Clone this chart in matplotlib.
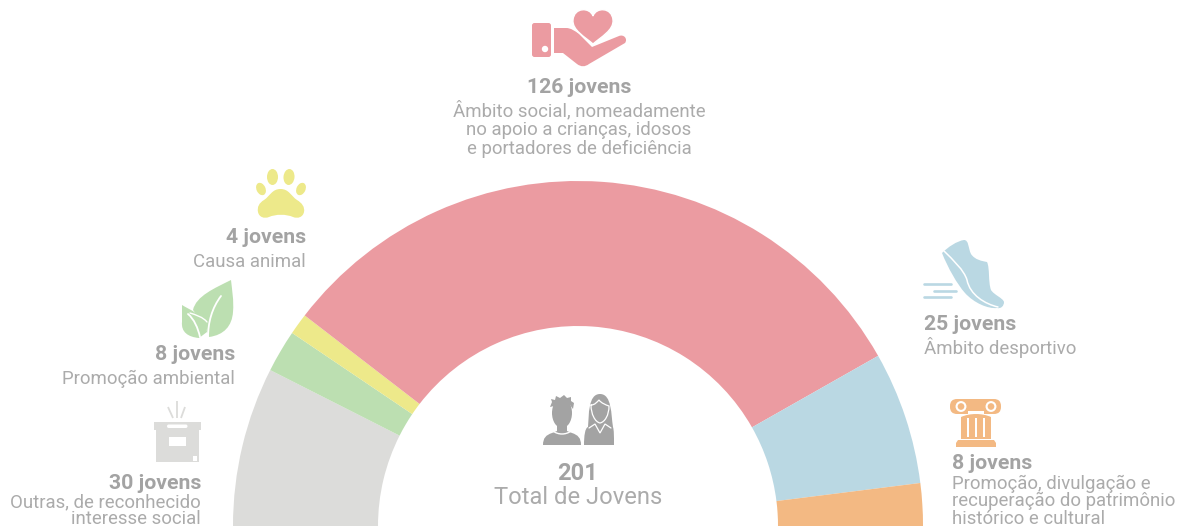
import matplotlib
matplotlib.use("Agg")
import matplotlib.pyplot as plt
from matplotlib.patches import Wedge, Circle, Ellipse, FancyBboxPatch, PathPatch, Rectangle
from matplotlib.path import Path

W, H = 1178, 526
CX, CY, R_OUT, R_IN = 578, 526, 345, 200

# slices, clockwise from the left end of the half ring
VALUES = [30, 8, 4, 126, 25, 8]
COLORS = ["#dcdcda", "#bcdfb1", "#ede98a", "#eb9ba1", "#bad8e3", "#f3b983"]
TOTAL = 201
TOTAL_LABEL = "Total de Jovens"
UNIT = "jovens"
DESCRIPTIONS = [
    ["Outras, de reconhecido", "interesse social"],
    ["Promoção ambiental"],
    ["Causa animal"],
    ["Âmbito social, nomeadamente", "no apoio a crianças, idosos", "e portadores de deficiência"],
    ["Âmbito desportivo"],
    ["Promoção, divulgação e", "recuperação do patrimônio", "histórico e cultural"],
]
# x, baselines of the title and each description line, alignment
LABEL_POS = [
    (201, [489, 507, 524], "right"),
    (235, [360, 384], "right"),
    (306, [243, 267], "right"),
    (579, [93, 116, 135, 154], "center"),
    (924, [330, 354], "left"),
    (952, [469, 489, 506, 524], "left"),
]
TEXT_DARK = "#a3a3a3"
TEXT_LIGHT = "#ababab"
PEOPLE = "#a3a3a3"

plt.rcParams["font.family"] = ["Roboto", "DejaVu Sans"]


def curve(ax, verts, color, **kw):
    # verts: first point, then (c1, c2, end) cubic segments or plain line points
    path_v, codes = [verts[0]], [Path.MOVETO]
    for seg in verts[1:]:
        if len(seg) == 3:
            path_v.extend(seg)
            codes.extend([Path.CURVE4] * 3)
        else:
            path_v.append(seg)
            codes.append(Path.LINETO)
    closed = kw.pop("closed", True)
    if closed:
        path_v.append(verts[0])
        codes.append(Path.CLOSEPOLY)
        ax.add_patch(PathPatch(Path(path_v, codes), fc=color, ec=kw.pop("ec", "none"), **kw))
    else:
        ax.add_patch(PathPatch(Path(path_v, codes), fc="none", ec=color, capstyle="round", **kw))


def rrect(ax, x0, y0, x1, y1, r, color):
    ax.add_patch(FancyBboxPatch((x0 + r, y0 + r), x1 - x0 - 2 * r, y1 - y0 - 2 * r,
                                boxstyle=f"round,pad={r},rounding_size={r}", fc=color, ec="none"))


def hand_icon(ax, c):
    rrect(ax, 532, 23, 551, 57, 2.5, c)
    ax.add_patch(Circle((545, 49), 3.2, fc="white", ec="none"))
    curve(ax, [(554, 28), (566, 28), ((571, 28), (575, 31), (579, 34)), (592, 47), (619, 36),
               ((624, 34), (628, 39), (625, 43)), (589, 64), ((585, 67), (581, 67), (577, 64)),
               (563, 53), (554, 53)], c)
    curve(ax, [(593, 44), ((585, 37), (572, 30), (573, 20)), ((574, 7), (590, 7), (593, 16)),
               ((596, 7), (612, 7), (613, 20)), ((614, 30), (601, 37), (593, 44))],
          c, ec="white", lw=1.0)


def paw_icon(ax, c):
    ax.add_patch(Ellipse((272.5, 177), 11, 16, fc=c, ec="none"))
    ax.add_patch(Ellipse((289, 177), 11, 16, angle=5, fc=c, ec="none"))
    ax.add_patch(Ellipse((261, 189), 9, 13, angle=-25, fc=c, ec="none"))
    ax.add_patch(Ellipse((301, 189), 9, 13, angle=25, fc=c, ec="none"))
    curve(ax, [(280.5, 189), ((272, 189), (270, 196), (264, 200)), ((259, 203), (257, 207), (258, 212)),
               ((259, 217), (264, 219), (269, 217)), ((276, 214), (286, 214), (293, 217)),
               ((298, 219), (303, 217), (304, 212)), ((305, 207), (302, 203), (297, 200)),
               ((291, 196), (289, 189), (280.5, 189))], c)


def leaf_icon(ax, c):
    curve(ax, [(231, 280), ((232, 290), (234, 300), (233, 312)), ((232, 326), (224, 335), (209, 337)),
               ((206, 325), (198, 317), (193, 310)), ((196, 296), (215, 288), (231, 280))], c)
    curve(ax, [(182, 305), ((190, 310), (202, 314), (206, 325)), (207, 332), (199, 338),
               ((188, 337), (181, 332), (182, 322))], c)
    curve(ax, [(221, 296), ((212, 308), (208, 322), (208, 338))], "white", closed=False, lw=1.3)
    curve(ax, [(188, 314), ((194, 319), (198, 328), (200, 337))], "white", closed=False, lw=1.3)
    curve(ax, [(190, 313), ((196, 315), (203, 317), (207, 322))], "white", closed=False, lw=1.0)


def box_icon(ax, c):
    ax.add_patch(Rectangle((154, 422), 47, 8, fc=c, ec="none"))
    ax.add_patch(Rectangle((156, 430), 43, 32, fc=c, ec="none"))
    rrect(ax, 167, 424.5, 187.5, 428, 1.7, "white")
    ax.add_patch(Rectangle((169, 437), 17, 9, fc="white", ec="none"))
    ax.add_patch(Rectangle((193, 456), 4, 4.5, fc="white", ec="none"))
    for (x0, y0), (x1, y1) in [((177, 401), (177, 418)), ((168, 407), (173, 418)), ((185, 407), (181, 418))]:
        ax.plot([x0, x1], [y0, y1], color=c, lw=1.3, solid_capstyle="butt")


def people_icon(ax, c):
    # man
    curve(ax, [(543, 445), ((543, 438), (546, 435), (552, 433)), (557, 431), (567, 431), (572, 433),
               ((578, 435), (581, 438), (581, 445))], c)
    ax.add_patch(Ellipse((562, 413), 20, 30, fc=c, ec="none"))
    ax.add_patch(Rectangle((557, 422), 10, 11, fc=c, ec="none"))
    curve(ax, [(550, 407), (552, 402), (551, 399), (555, 400), (556, 396), (560, 398), (564, 395),
               (567, 398), (571, 397), (571, 401), (574, 403), (573, 409), (570, 405), (562, 403),
               (554, 406)], c)
    curve(ax, [(553, 431), ((558, 435), (566, 435), (571, 431))], "white", closed=False, lw=1.0)
    # woman
    curve(ax, [(588, 427), ((589, 415), (588, 394), (600, 394)), ((612, 394), (611, 415), (613, 427)),
               ((614, 430), (614, 436), (614, 445)), (584, 445), ((584, 436), (585, 428), (588, 427))], c)
    curve(ax, [(591, 405), ((595, 405), (597, 402), (599, 400)), ((601, 403), (606, 405), (609, 406)),
               ((609, 415), (605, 422), (600, 423)), ((595, 422), (591, 414), (591, 405))],
          "white", closed=False, lw=0.9)
    curve(ax, [(589, 428), (595, 424), (600, 433), (605, 424), (611, 428)], "white", closed=False, lw=0.9)


def shoe_icon(ax, c):
    curve(ax, [(942, 253), ((948, 247), (957, 241), (964, 240)), ((969, 240), (968, 248), (971, 254)),
               ((975, 260), (982, 261), (987, 262)), ((990, 268), (988, 282), (991, 290)),
               ((994, 295), (1003, 298), (1004, 302)), ((1004, 306), (1001, 309), (997, 308)),
               ((988, 309), (974, 303), (965, 293)), ((957, 284), (948, 268), (942, 253))], c)
    curve(ax, [(944, 251), ((953, 260), (964, 270), (967, 280)), ((970, 295), (985, 304), (998, 307))],
          "white", closed=False, lw=1.1)
    for y, x0, x1 in [(284, 924, 951), (291, 934, 956), (297, 924, 951)]:
        ax.plot([x0, x1], [y, y], color=c, lw=1.9, solid_capstyle="round")


def column_icon(ax, c):
    rrect(ax, 950, 399, 1001, 414, 7, c)
    ax.add_patch(Rectangle((968, 411), 16, 3.5, fc="white", ec="none"))
    for x in (961, 991):
        ax.add_patch(Circle((x, 406.5), 4.4, fc=c, ec="white", lw=1.5))
    curve(ax, [(961, 417), ((970, 413), (982, 413), (991, 417)), (991, 439), (961, 439)], c)
    for x in (968, 976, 984):
        ax.add_patch(Rectangle((x - 0.9, 418), 1.8, 19, fc="white", ec="none"))
    curve(ax, [(958, 440), (994, 440), (996, 443), (996, 447), (956, 447), (956, 443)], c)


def main():
    fig = plt.figure(figsize=(W / 100, H / 100), dpi=100)
    ax = fig.add_axes([0, 0, 1, 1])
    ax.set_xlim(0, W)
    ax.set_ylim(H, 0)  # pixel coordinates, y down: wedge angles run clockwise on screen
    ax.axis("off")

    angle = 180.0
    for v, col in zip(VALUES, COLORS):
        sweep = 180.0 * v / sum(VALUES)
        ax.add_patch(Wedge((CX, CY), R_OUT, angle, angle + sweep, width=R_OUT - R_IN, fc=col, ec="none"))
        angle += sweep

    for v, desc, (x, ys, ha) in zip(VALUES, DESCRIPTIONS, LABEL_POS):
        ax.text(x, ys[0], f"{v} {UNIT}", ha=ha, va="baseline", fontsize=15.3,
                fontweight="bold", color=TEXT_DARK)
        for line, y in zip(desc, ys[1:]):
            ax.text(x, y, line, ha=ha, va="baseline", fontsize=13.4, color=TEXT_LIGHT)

    ax.text(578, 480, str(TOTAL), ha="center", va="baseline", fontsize=17,
            fontweight="bold", color=TEXT_DARK)
    ax.text(578, 504, TOTAL_LABEL, ha="center", va="baseline", fontsize=17.1, color=TEXT_LIGHT)

    hand_icon(ax, COLORS[3])
    paw_icon(ax, COLORS[2])
    leaf_icon(ax, COLORS[1])
    box_icon(ax, COLORS[0])
    people_icon(ax, PEOPLE)
    shoe_icon(ax, COLORS[4])
    column_icon(ax, COLORS[5])

    fig.savefig("out.png", dpi=100, facecolor="white")


if __name__ == "__main__":
    main()
